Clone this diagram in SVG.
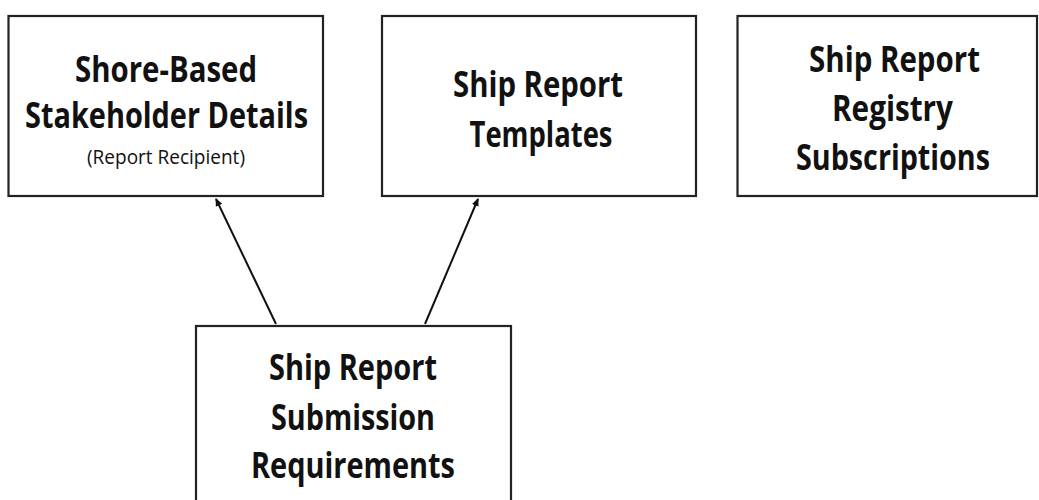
<svg xmlns="http://www.w3.org/2000/svg" width="1039" height="500" viewBox="0 0 1039 500">
<style>
.box{fill:#fff;stroke:#222;stroke-width:2.2}
.t{font-family:"Open Sans","Noto Sans",sans-serif;font-weight:bold;font-size:36px;fill:#111;text-anchor:middle}
.s{font-family:"Open Sans","Noto Sans",sans-serif;font-size:20px;fill:#111;text-anchor:middle}
.c{stroke:#111;stroke-width:2;fill:none;marker-end:url(#ah)}
</style>
<defs>
<marker id="ah" markerWidth="8" markerHeight="8" refX="7" refY="4" orient="auto" markerUnits="userSpaceOnUse">
<path d="M0,0.5 L8,4 L0,7.5 Z" fill="#111"/>
</marker>
</defs>
<rect width="1039" height="500" fill="#fff"/>
<g id="shore">
<rect class="box" x="8.5" y="16" width="314.5" height="180"/>
<text class="t" x="166" y="82" textLength="182" lengthAdjust="spacingAndGlyphs">Shore-Based</text>
<text class="t" x="166.5" y="128" textLength="283" lengthAdjust="spacingAndGlyphs">Stakeholder Details</text>
<text class="s" x="166" y="164" textLength="158" lengthAdjust="spacingAndGlyphs">(Report Recipient)</text>
</g>
<g id="templates">
<rect class="box" x="382" y="16" width="314" height="180"/>
<text class="t" x="538" y="97" textLength="170" lengthAdjust="spacingAndGlyphs">Ship Report</text>
<text class="t" x="541" y="147" textLength="143" lengthAdjust="spacingAndGlyphs">Templates</text>
</g>
<g id="registry">
<rect class="box" x="737.5" y="16" width="299.5" height="180"/>
<text class="t" x="894.5" y="72" textLength="171" lengthAdjust="spacingAndGlyphs">Ship Report</text>
<text class="t" x="892.5" y="121" textLength="121" lengthAdjust="spacingAndGlyphs">Registry</text>
<text class="t" x="893" y="170" textLength="194" lengthAdjust="spacingAndGlyphs">Subscriptions</text>
</g>
<g id="submission">
<rect class="box" x="196" y="326" width="315" height="190"/>
<text class="t" x="353" y="380" textLength="168" lengthAdjust="spacingAndGlyphs">Ship Report</text>
<text class="t" x="353" y="430" textLength="164" lengthAdjust="spacingAndGlyphs">Submission</text>
<text class="t" x="353" y="478" textLength="204" lengthAdjust="spacingAndGlyphs">Requirements</text>
</g>
<g id="connectors">
<line class="c" x1="276" y1="324" x2="216" y2="199"/>
<line class="c" x1="425" y1="324" x2="478" y2="199"/>
</g>
</svg>
